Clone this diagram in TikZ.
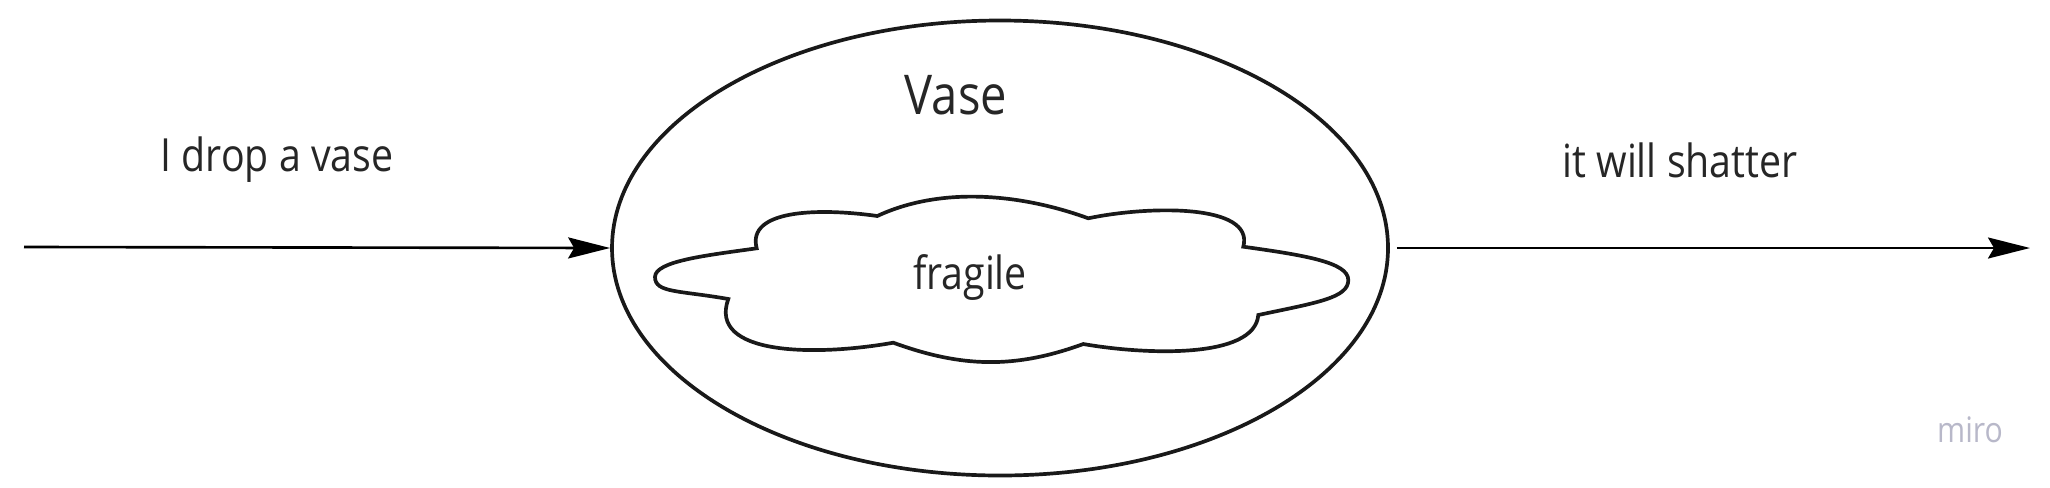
\documentclass[tikz,border=0pt]{standalone}
\usepackage{fontspec}
\setmainfont{Open Sans}[FakeStretch=0.86]
\usetikzlibrary{shapes.geometric, arrows.meta}
\begin{document}
\begin{tikzpicture}[fleche/.style={-{Stealth[length=0.42cm, width=0.21cm, inset=0.06cm]}, line width=0.75pt}]
        \tikzset{txt/.style={font=\fontsize{13}{15}\selectfont, text=black!85}};
        \useasboundingbox (0, 0) rectangle (20.5, 4.87);

        \node[ellipse, draw=black!90, line width=1.05pt, minimum width=7.76cm, minimum height=4.55cm] (vase) at (10, 2.39) {};

        % nuage
        \draw[draw=black!90, line width=1.05pt, line join=miter]
            (7.283, 1.880) .. controls +(170:0.5) and +(-90:0.16) .. (6.55, 2.10)
            .. controls +(90:0.16) and +(188:0.5) .. (7.567, 2.387)
            .. controls +(105:0.4) and +(172:0.6) .. (8.773, 2.710)
            .. controls +(25:0.71) and +(160:0.71) .. (10.883, 2.687)
            .. controls +(12:0.6) and +(75:0.45) .. (12.433, 2.403)
            .. controls +(-8:0.6) and +(90:0.18) .. (13.483, 2.07)
            .. controls +(-90:0.18) and +(12:0.6) .. (12.583, 1.720)
            .. controls +(-95:0.45) and +(-10:0.6) .. (10.833, 1.430)
            .. controls +(200:0.73) and +(-20:0.73) .. (8.933, 1.443)
            .. controls +(190:0.8) and +(250:0.6) .. cycle;

        \coordinate (depart) at (0.24, 2.40);
        \coordinate (fin) at (20.30, 2.39);
        \draw[fleche] (depart) -- (vase.west);
        \draw[fleche, shorten <=2pt] (vase.east) -- (fin);

        \node[txt, font=\fontsize{15.6}{18}\selectfont] (titre) at (9.56, 3.92) {Vase};
        \node[txt] (qualite) at (9.70, 2.09) {fragile};
        \node[txt] (cause) at (2.77, 3.27) {I drop a vase};
        \node[txt] (effet) at (16.80, 3.27) {it will shatter};
        \node[font=\fontsize{10}{12}\selectfont, text=black!15!blue!10!white!80!black] (logo) at (19.70, 0.57) {miro};
    \end{tikzpicture}
\end{document}
